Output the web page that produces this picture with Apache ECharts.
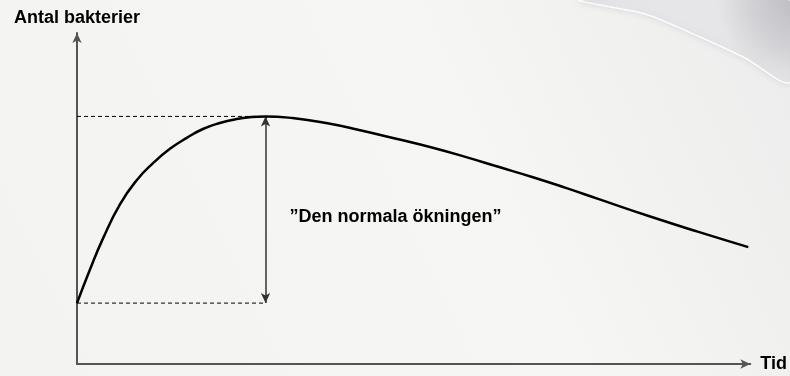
<!DOCTYPE html>
<html>
<head>
    <meta charset="utf-8">
    <title>Antal bakterier</title>
    <script src="https://cdn.jsdelivr.net/npm/echarts@6/dist/echarts.min.js"></script>
    <style>
        html, body { margin: 0; padding: 0; }
        #main { width: 790px; height: 376px; }
    </style>
</head>
<body>
<div id="main"></div>
<script>
    // tid (0-100) och antal bakterier (0-100)
    var timeVals = [0, 1.9, 3.9, 6.4, 8.9, 11.3, 13.8, 16.3, 18.7, 21.2, 23.7, 25.9, 28.0,
        32.0, 37.0, 41.9, 47.9, 52.7, 57.8, 62.7, 67.6, 72.6, 77.5, 84.9, 92.3, 99.7];
    var countVals = [18.4, 28.4, 38.1, 48.3, 55.6, 60.7, 65.0, 68.3, 71.0, 72.8, 74.0, 74.6, 74.8,
        74.3, 72.8, 70.7, 67.8, 65.4, 62.5, 59.5, 56.5, 53.2, 49.8, 44.7, 39.9, 35.3];
    var axisNames = ['Tid', 'Antal bakterier'];
    var noteText = '\u201dDen normala ökningen\u201d';

    var curve = timeVals.map(function (t, i) { return [t, countVals[i]]; });
    var startY = countVals[0];
    var peakY = Math.max.apply(null, countVals);
    var peakX = timeVals[countVals.indexOf(peakY)];

    var font = 'Liberation Sans, Arial, sans-serif';
    var chart = echarts.init(document.getElementById('main'));
    var option = {
        animation: false,
        backgroundColor: {
            type: 'linear', x: 0, y: 1, x2: 1, y2: 0,
            colorStops: [{offset: 0, color: '#f3f3f1'}, {offset: 0.6, color: '#f6f6f4'}, {offset: 1, color: '#ececec'}]
        },
        graphic: [{
            type: 'polygon',
            silent: true,
            z: -10,
            shape: {
                smooth: 0.3,
                points: [[580, 0], [790, 0], [790, 82], [745, 58], [700, 37], [645, 14]]
            },
            style: {
                fill: {
                    type: 'radial', x: 1, y: 0.1, r: 0.9,
                    colorStops: [{offset: 0, color: '#bcbbc0'}, {offset: 0.6, color: '#d2d1d5'}, {offset: 1, color: '#e6e6e8'}]
                },
                stroke: 'rgba(255,255,255,0.9)',
                lineWidth: 1.5,
                shadowBlur: 6,
                shadowColor: 'rgba(200,200,205,0.6)'
            }
        }],
        grid: {left: 77, right: 38, top: 33, bottom: 12},
        xAxis: {
            type: 'value', min: 0, max: 100,
            name: axisNames[0], nameLocation: 'end', nameGap: 10,
            nameTextStyle: {color: '#000', fontSize: 18, fontWeight: 'bold', fontFamily: font, padding: [4, 0, 0, 0]},
            axisLine: {show: true, symbol: ['none', 'arrow'], symbolSize: [7, 10],
                lineStyle: {color: '#555', width: 2}},
            axisTick: {show: false}, axisLabel: {show: false}, splitLine: {show: false}
        },
        yAxis: {
            type: 'value', min: 0, max: 100,
            name: axisNames[1], nameLocation: 'end', nameGap: 6,
            nameTextStyle: {color: '#000', fontSize: 18, fontWeight: 'bold', fontFamily: font},
            axisLine: {show: true, symbol: ['none', 'arrow'], symbolSize: [7, 10],
                lineStyle: {color: '#555', width: 2}},
            axisTick: {show: false}, axisLabel: {show: false}, splitLine: {show: false}
        },
        series: [{
            type: 'line',
            data: curve,
            smooth: 0.5,
            showSymbol: false,
            lineStyle: {color: '#000', width: 2.5},
            z: 5,
            markLine: {
                silent: true,
                symbol: ['arrow', 'arrow'],
                symbolSize: [7, 10],
                label: {show: false},
                lineStyle: {color: '#333', width: 1.5, type: 'solid'},
                data: [[{coord: [peakX, startY]}, {coord: [peakX, peakY]}]]
            }
        }, {
            type: 'line',
            data: [[0, peakY], [peakX, peakY]],
            showSymbol: false,
            lineStyle: {color: '#000', width: 1, type: [4, 3]}
        }, {
            type: 'line',
            data: [[0, startY], [peakX, startY]],
            showSymbol: false,
            lineStyle: {color: '#000', width: 1, type: [4, 3]}
        }, {
            type: 'scatter',
            data: [[peakX, (peakY + startY) / 2]],
            symbolSize: 2,
            itemStyle: {color: 'transparent', opacity: 1},
            label: {
                show: true, position: 'right', distance: 23, offset: [0, 7],
                formatter: noteText,
                color: '#000', fontSize: 18, fontWeight: 'bold', fontFamily: font
            }
        }]
    };
    chart.setOption(option);
</script>
</body>
</html>
